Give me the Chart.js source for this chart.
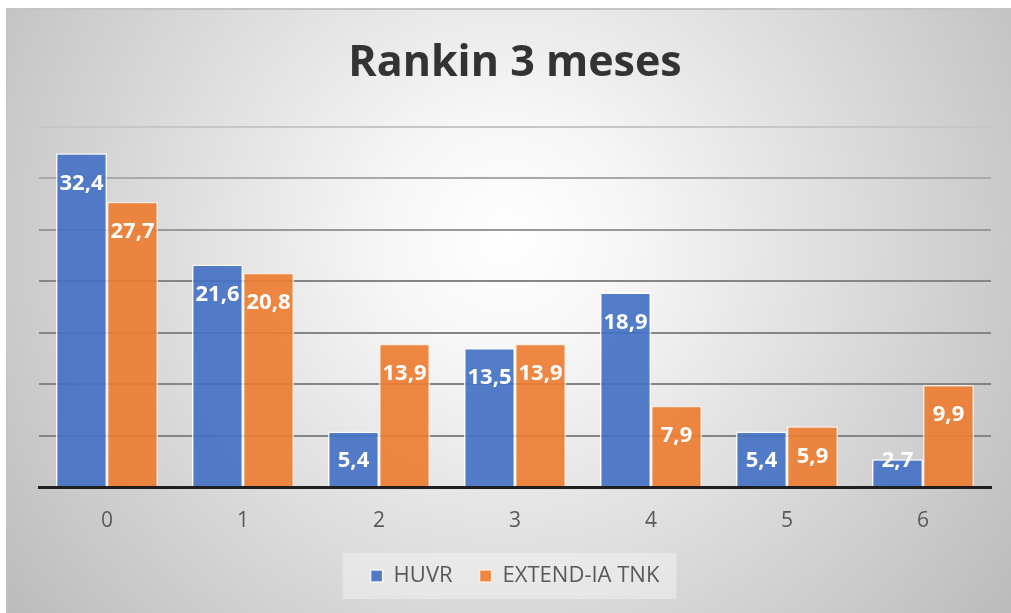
<!DOCTYPE html>
<html>
<head>
<meta charset="utf-8">
<script src="https://cdn.jsdelivr.net/npm/chart.js@4/dist/chart.umd.min.js"></script>
<style>
  html, body { margin: 0; padding: 0; background: #fff; }
  #wrap { position: absolute; left: 6px; top: 8px; width: 1005px; height: 605px; }
</style>
</head>
<body>
<div id="wrap"><canvas id="chart"></canvas></div>
<script>
const categories = ["0", "1", "2", "3", "4", "5", "6"];
const huvr = [32.4, 21.6, 5.4, 13.5, 18.9, 5.4, 2.7];
const extendIa = [27.7, 20.8, 13.9, 13.9, 7.9, 5.9, 9.9];
const seriesNames = ["HUVR", "EXTEND-IA TNK"];
const yMax = 35;
const yStep = 5;

const fmt = v => v.toFixed(1).replace(".", ",");

// grey radial backdrop + light box behind the legend
const backdrop = {
  id: "backdrop",
  beforeDraw(chart) {
    const { ctx, width, height } = chart;
    ctx.save();
    const g = ctx.createRadialGradient(500, 230, 0, 500, 230, 620);
    g.addColorStop(0, "#ffffff");
    g.addColorStop(0.2, "#f6f6f6");
    g.addColorStop(1, "#bcbcbc");
    ctx.fillStyle = g;
    ctx.fillRect(0, 0, width, height);
    ctx.fillStyle = "#c4c4c4";
    ctx.fillRect(0, 0, width, 2);
    ctx.fillRect(0, 0, 1, height);

    const hb = chart.legend.legendHitBoxes;
    if (hb && hb.length) {
      const last = hb[hb.length - 1];
      const x0 = hb[0].left - 28;
      const x1 = last.left + last.width + 17;
      const cy = hb[0].top + hb[0].height / 2;
      ctx.fillStyle = "rgba(255,255,255,0.35)";
      ctx.fillRect(x0, cy - 23, x1 - x0, 46);
    }
    ctx.restore();
  }
};

// white value labels near the top of each bar
const barLabels = {
  id: "barLabels",
  afterDatasetsDraw(chart) {
    const { ctx } = chart;
    ctx.save();
    ctx.font = "bold 22px 'Open Sans'";
    ctx.fillStyle = "#ffffff";
    ctx.textAlign = "center";
    ctx.textBaseline = "middle";
    chart.data.datasets.forEach((ds, i) => {
      chart.getDatasetMeta(i).data.forEach((bar, j) => {
        const y = Math.min(bar.y + 30, bar.base - 25);
        ctx.fillText(fmt(ds.data[j]), bar.x, y);
      });
    });
    ctx.restore();
  }
};

const gridColor = ctx => {
  const v = ctx.tick && ctx.tick.value;
  if (v === 35) return "#c6c6c6";
  if (v === 30) return "#a9a9a9";
  if (v === 25) return "#999999";
  return "#858585";
};

new Chart(document.getElementById("chart"), {
  type: "bar",
  data: {
    labels: categories,
    datasets: [
      {
        label: seriesNames[0],
        data: huvr,
        backgroundColor: "rgba(68,114,196,0.92)",
        borderColor: "rgba(255,255,255,0.85)",
        borderWidth: 1.5
      },
      {
        label: seriesNames[1],
        data: extendIa,
        backgroundColor: "rgba(237,125,49,0.92)",
        borderColor: "rgba(255,240,225,0.85)",
        borderWidth: 1.5
      }
    ]
  },
  options: {
    responsive: true,
    maintainAspectRatio: false,
    animation: false,
    layout: { padding: { left: 33, right: 20, top: 0, bottom: 16 } },
    categoryPercentage: 0.75,
    barPercentage: 1,
    scales: {
      x: {
        grid: { display: false, drawTicks: false },
        border: { color: "#1f1f1f", width: 3 },
        ticks: { color: "#595959", padding: 21, font: { family: "Open Sans", size: 21 } },
        afterFit: scale => { scale.height = 51; }
      },
      y: {
        min: 0,
        max: yMax,
        ticks: { display: false, stepSize: yStep },
        border: { display: false },
        grid: { color: gridColor, lineWidth: 2, drawTicks: false }
      }
    },
    plugins: {
      title: {
        display: true,
        text: "Rankin 3 meses",
        color: "#333333",
        font: { family: "Open Sans", size: 43, weight: "bold" },
        padding: { top: 30, bottom: 37 }
      },
      legend: {
        position: "bottom",
        labels: {
          color: "#595959",
          boxWidth: 12,
          boxHeight: 12,
          padding: 27,
          font: { family: "Open Sans", size: 22 }
        }
      },
      tooltip: { enabled: false }
    }
  },
  plugins: [backdrop, barLabels]
});
</script>
</body>
</html>
